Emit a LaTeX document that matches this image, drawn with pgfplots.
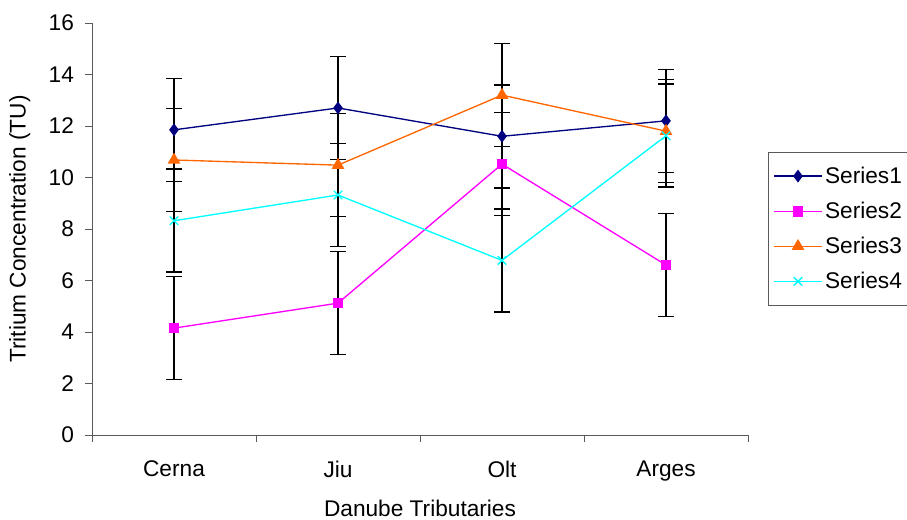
\documentclass[border=0pt]{standalone}
\usepackage{pgfplots}
\pgfplotsset{compat=1.18}
\usepackage{fontspec}
\setmainfont{Liberation Sans}
\definecolor{s1}{RGB}{0,0,128}
\definecolor{s2}{RGB}{255,0,255}
\definecolor{s3}{RGB}{255,102,0}
\definecolor{s4}{RGB}{0,255,255}
\begin{document}
\begin{tikzpicture}
\begin{axis}[
  scale only axis,
  width=492pt, height=309pt,
  xmin=-0.5, xmax=3.5, ymin=0, ymax=16,
  axis x line*=bottom, axis y line*=left,
  axis line style={gray!70!black, line width=0.6pt},
  xtick={-0.5,0.5,1.5,2.5,3.5},
  xticklabels={Cerna,Jiu,Olt,Arges},
  x tick label as interval,
  ytick={0,2,...,16},
  tick align=outside,
  major tick length=5pt,
  tick style={gray!70!black, line width=0.6pt},
  /pgf/number format/assume math mode=true,
  font=\fontsize{17pt}{20pt}\selectfont,
  xticklabel style={yshift=-11pt},
  yticklabel style={xshift=-5pt},
  xlabel={Danube Tributaries},
  ylabel={Tritium Concentration (TU)},
  xlabel style={yshift=-7pt},
  ylabel style={yshift=7pt},
  legend style={at={(1.0305,0.687)}, anchor=north west, draw=gray!70!black,
    font=\fontsize{17pt}{20pt}\selectfont, row sep=8.5pt, inner xsep=4pt, inner ysep=9pt,
    cells={anchor=west}},
  legend image code/.code={\draw[#1, line width=1pt] (0cm,0cm) -- (1.25cm,0cm); \draw[#1, only marks] plot coordinates {(0.625cm,0cm)};},
  error bars/y dir=both, error bars/y explicit,
  error bars/error bar style={black, line width=1.2pt},
  error bars/error mark options={black, rotate=90, mark size=6pt, line width=1.2pt},
]
\addplot[s1, line width=1pt, mark=diamond*, mark size=4pt, mark options={fill=s1}]
  coordinates {(0,11.85) +- (0,2) (1,12.7) +- (0,2) (2,11.6) +- (0,2) (3,12.2) +- (0,2)};
\addlegendentry{Series1}
\addplot[s2, line width=1pt, mark=square*, mark size=3.5pt, mark options={fill=s2}]
  coordinates {(0,4.15) +- (0,2) (1,5.12) +- (0,2) (2,10.52) +- (0,2) (3,6.6) +- (0,2)};
\addlegendentry{Series2}
\addplot[s3, line width=1pt, mark=triangle*, mark size=4.5pt, mark options={fill=s3}]
  coordinates {(0,10.68) +- (0,2) (1,10.48) +- (0,2) (2,13.2) +- (0,2) (3,11.8) +- (0,2)};
\addlegendentry{Series3}
\addplot[s4, line width=1pt, mark=x, mark size=4.5pt, mark options={line width=1pt}]
  coordinates {(0,8.32) +- (0,2) (1,9.32) +- (0,2) (2,6.78) +- (0,2) (3,11.62) +- (0,2)};
\addlegendentry{Series4}
\end{axis}
\pgfresetboundingbox
\path[use as bounding box] (-69pt,-63.75pt) rectangle (611.25pt,326.25pt);
\end{tikzpicture}
\end{document}
